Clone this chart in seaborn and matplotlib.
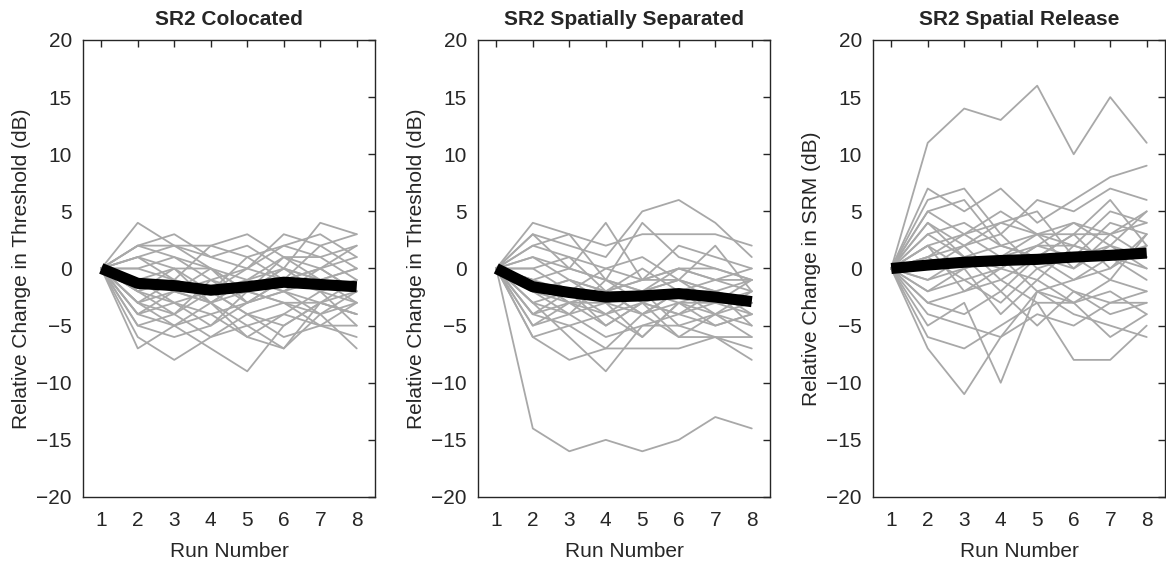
import seaborn as sns
import matplotlib.pyplot as plt
import pandas as pd

runs = [1, 2, 3, 4, 5, 6, 7, 8]

colocated = [
    [0, 4, 2, 1, 2, 0, 4, 3],
    [0, 2, 3, 1, 0, 3, 2, 3],
    [0, 2, 2, 2, 3, 1, 0, 2],
    [0, 1, -1, 2, 1, 2, 1, -1],
    [0, 0, 1, -1, 0, 2, 3, 1],
    [0, -1, 0, 0, -2, 0, -1, 0],
    [0, -2, -1, -3, -1, -2, 0, -2],
    [0, -3, -2, -1, -3, -1, -2, -3],
    [0, -4, -3, -5, -2, -3, -4, -2],
    [0, -5, -4, -2, -4, -5, -3, -4],
    [0, -7, -5, -4, -6, -4, -5, -5],
    [0, -6, -8, -6, -5, -7, -4, -7],
    [0, -3, -5, -7, -9, -5, -3, -4],
    [0, -1, -3, -4, -3, -2, -4, -3],
    [0, -2, 0, -3, -1, 0, -2, -1],
    [0, 1, 0, -2, 1, -1, 2, 0],
    [0, -1, -2, 0, -2, 1, -1, -2],
    [0, -3, -4, -6, -4, -3, -5, -3],
    [0, -4, -2, -3, -5, -4, -2, -5],
    [0, -2, -4, -1, -2, -3, -3, -1],
    [0, 0, -1, -2, 0, -1, 0, -2],
    [0, -5, -6, -5, -3, -2, -1, -3],
    [0, 2, 1, 0, -1, 1, 1, 2],
    [0, -2, -3, -2, -4, -6, -5, -6],
    [0, -3, -1, -2, -1, -2, -3, -4],
    [0, -1, -2, -3, -2, 0, -1, 0],
    [0, -4, -5, -3, -6, -7, -3, -2],
    [0, 1, 2, 0, -3, -1, 0, 1],
]

separated = [
    [0, -14, -16, -15, -16, -15, -13, -14],
    [0, 4, 3, 2, 3, 3, 3, 2],
    [0, 3, 2, 1, 5, 6, 4, 1],
    [0, 2, 3, -1, 4, 1, 0, -1],
    [0, 1, 0, 4, -1, 2, 1, 0],
    [0, 0, 1, 0, 1, -1, 2, -2],
    [0, -1, -2, 0, -1, 0, -1, -2],
    [0, -2, -1, -3, -2, -1, -3, -1],
    [0, -3, -2, -4, -3, -2, -2, -3],
    [0, -4, -3, -2, -4, -3, -4, -3],
    [0, -5, -4, -6, -5, -4, -5, -4],
    [0, -6, -5, -7, -4, -6, -6, -7],
    [0, -6, -8, -7, -7, -7, -6, -8],
    [0, -3, -6, -9, -5, -5, -4, -6],
    [0, -1, -3, -5, -3, -4, -2, -5],
    [0, -2, -4, -3, -6, -3, -3, -4],
    [0, 1, -1, -2, 0, -2, -1, -1],
    [0, -1, 0, -1, -2, 0, 0, -1],
    [0, -4, -5, -4, -2, -5, -6, -6],
    [0, -3, -4, -1, -3, -6, -4, -2],
    [0, -2, -1, -2, -1, -1, -2, -3],
    [0, 0, -2, -3, -4, -2, -3, -2],
    [0, -5, -3, -4, -6, -3, -2, -4],
    [0, 2, 1, -2, -1, 0, -1, 0],
    [0, -1, -3, -2, -4, -2, -4, -5],
    [0, -4, -2, -5, -3, -4, -3, -3],
    [0, -2, -3, -3, -2, -3, -5, -4],
    [0, 3, 0, -1, -2, -1, -2, -1],
]

release = [
    [0, 11, 14, 13, 16, 10, 15, 11],
    [0, 7, 5, 7, 4, 6, 8, 9],
    [0, 6, 7, 3, 6, 5, 7, 6],
    [0, 5, 3, 5, 3, 4, 2, 5],
    [0, 4, 2, 4, 5, 1, 4, 3],
    [0, 3, 4, 2, 3, 3, 3, 4],
    [0, 2, 3, 1, 2, 2, 1, 2],
    [0, 1, 2, 3, 0, 1, 2, 1],
    [0, 3, 1, 2, 1, 3, 0, 3],
    [0, 2, 0, 1, 3, 0, 2, 0],
    [0, 1, -1, 0, -1, 2, 1, -1],
    [0, -1, 1, -2, 1, -1, 0, 2],
    [0, -2, -1, -3, 0, -2, -3, -2],
    [0, -3, -2, -1, -3, -3, -2, -4],
    [0, -4, -5, -6, -4, -5, -3, -3],
    [0, -6, -7, -5, -3, -8, -8, -5],
    [0, -7, -11, -6, -2, -4, -5, -6],
    [0, -5, -3, -10, -2, -3, -6, -4],
    [0, 0, 2, -1, 1, 0, 3, 1],
    [0, 2, -2, 0, 2, 1, -1, 3],
    [0, -1, 0, 1, -2, -1, 1, 0],
    [0, 4, 1, 0, 2, 4, 3, 5],
    [0, -3, -4, -2, -5, -2, -4, -3],
    [0, 1, 3, 4, 3, 2, 5, 4],
    [0, -2, 0, -4, -1, -3, -1, -2],
    [0, 5, 6, 2, 1, 3, 6, 2],
]

mean_colocated = [0, -1.3, -1.5, -1.9, -1.6, -1.2, -1.4, -1.6]
mean_separated = [0, -1.6, -2.1, -2.5, -2.4, -2.2, -2.5, -2.9]
mean_release = [0, 0.3, 0.55, 0.7, 0.8, 1.0, 1.15, 1.35]

titles = ['SR2 Colocated', 'SR2 Spatially Separated', 'SR2 Spatial Release']
ylabels = ['Relative Change in Threshold (dB)', 'Relative Change in Threshold (dB)',
           'Relative Change in SRM (dB)']

sns.set_style('white')
plt.rcParams['font.family'] = ['Liberation Sans', 'DejaVu Sans']

fig = plt.figure(figsize=(11.66, 5.61), dpi=100)
lefts = [0.0712, 0.41, 0.7487]

panels = [(colocated, mean_colocated), (separated, mean_separated), (release, mean_release)]
for i, (subj, mean) in enumerate(panels):
    ax = fig.add_axes([lefts[i], 0.1141, 0.2504, 0.8146])
    rows = []
    for s, vals in enumerate(subj):
        for r, v in zip(runs, vals):
            rows.append({'run': r, 'val': v, 'subj': s})
    df = pd.DataFrame(rows)
    sns.lineplot(data=df, x='run', y='val', units='subj', estimator=None,
                 color='#a8a8a8', lw=1.3, ax=ax)
    mdf = pd.DataFrame({'run': runs, 'val': mean})
    sns.lineplot(data=mdf, x='run', y='val', color='black', lw=8,
                 solid_capstyle='butt', ax=ax)

    ax.set_xlim(0.5, 8.5)
    ax.set_ylim(-20, 20)
    ax.set_xticks(runs)
    ax.set_yticks(range(-20, 21, 5))
    ax.set_title(titles[i], fontsize=15, fontweight='bold', pad=11)
    ax.set_xlabel('Run Number', fontsize=15, color='#262626', labelpad=9)
    ax.set_ylabel(ylabels[i], fontsize=15, color='#262626', labelpad=4)
    ax.tick_params(direction='in', length=5, width=1, top=True, right=True,
                   labelsize=15, colors='#262626')
    ax.tick_params(axis='x', pad=10)
    ax.tick_params(axis='y', pad=8)
    for sp in ax.spines.values():
        sp.set_visible(True)
        sp.set_color('#262626')
        sp.set_linewidth(1)

fig.savefig('out.png', dpi=100)
